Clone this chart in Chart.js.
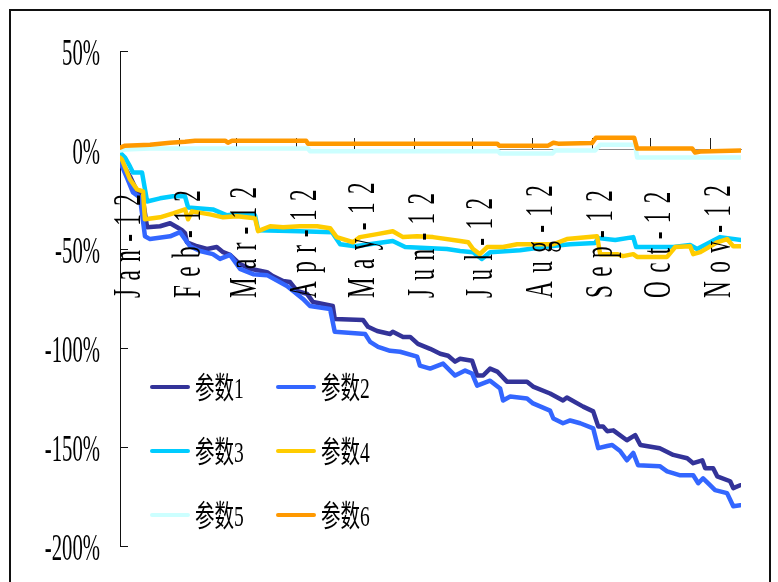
<!DOCTYPE html>
<html>
<head>
<meta charset="utf-8">
<script src="https://cdn.jsdelivr.net/npm/chart.js@4/dist/chart.umd.min.js"></script>
<style>
  html, body { margin: 0; padding: 0; background: #ffffff; overflow: hidden; }
  canvas { display: block; }
</style>
</head>
<body>
<canvas id="chart" width="778" height="582"></canvas>
<script>
// Month start positions (days since 1 Jan 2012) and their labels
const monthDays = [0, 31, 60, 91, 121, 152, 182, 213, 244, 274, 305];
const monthLabels = ['Jan-12', 'Feb-12', 'Mar-12', 'Apr-12', 'May-12', 'Jun-12',
                     'Jul-12', 'Aug-12', 'Sep-12', 'Oct-12', 'Nov-12'];
const lastDay = 321;

const seriesNames = ['参数1', '参数2', '参数3', '参数4', '参数5', '参数6'];
const seriesColors = ['#333399', '#3366FF', '#00CCFF', '#FFCC00', '#CCFFFF', '#FF9900'];

// Cumulative return (%) per series, sampled by day
const s1Days = [0,5.2,8.8,11.4,14,20.7,25.9,29.5,32,33.6,34.6,39.8,45,50,53.3,56.9,62,67.2,76,79,84.3,87.9,91.5,96.7,99.8,110,111,125.6,128.2,132.9,139.6,141,146.3,150,154,160.3,165.5,169.6,173.2,175.8,182,184.6,187.7,191.3,195,200,210.4,213.5,222.3,229,231,239.4,244.6,247.2,249.7,251.8,255,262,266.3,269,279,286,293.2,296.3,301,302.5,306.6,308.7,315.4,317,320.6];
const s1Vals = [-4.8,-13.4,-20.9,-22.3,-39,-38.5,-37,-39,-40.5,-42,-46.6,-48.6,-50,-49,-51.6,-53,-57.6,-60,-61.7,-63.7,-66.2,-66.7,-71.2,-72.7,-76.8,-78.8,-85.3,-85.8,-89.3,-91.4,-92.9,-91.8,-94.4,-94.4,-97.9,-100.4,-102.9,-103.9,-106.9,-105.4,-106.4,-113.9,-113.9,-110.4,-111.9,-117,-117,-119.5,-123,-126.5,-125,-129.6,-132,-139.6,-139.6,-142,-141.6,-146.6,-144,-149,-150.6,-154,-155.7,-158.2,-156.7,-160.7,-160.7,-164.8,-167.3,-170.8,-169.3];

const s2Days = [0,4,6.7,10.3,12.9,15.5,25.9,31,33.6,36.2,41.4,48,51.7,56.9,62,68.8,76,86.3,94.6,98.2,108.6,111,126.7,129.3,133.4,139.6,144.8,153.6,155,160.3,167,170.6,173.2,178.4,182,184.6,191.3,196.5,198,201.7,210.4,213.5,222.3,224,229,232.7,237.9,244.6,247.2,251.8,254.4,258.5,262,265.3,267.8,279,282.8,289.6,296.3,298.9,301.4,305,307.6,313.8,317,320.6];
const s2Vals = [-5.8,-14.9,-21.4,-23.9,-43.6,-45,-43.6,-41.5,-45,-48.6,-51,-52.6,-55,-53,-60,-62.7,-63.2,-68.7,-75.2,-78.8,-80.3,-91.8,-92.9,-96.9,-99.4,-101.4,-101.9,-104.4,-108.9,-110.4,-107.9,-111.4,-113.9,-111.4,-112.9,-119,-116.5,-120.5,-126.5,-124.5,-125.5,-128,-131.6,-135.6,-138,-136.6,-138,-140.6,-150.6,-149.5,-149,-152,-156.7,-153,-159.2,-159.7,-162.3,-164.3,-164.3,-168.3,-165.8,-169.3,-171.8,-173.3,-179.9,-179.4];

const s3Days = [0,2.6,5.2,6.7,11.4,14,20.7,27.4,33.6,35.2,48,55.3,58.4,69.8,71.4,93,109.6,113.8,121.5,141,147.4,169,175.8,182.5,187,191.3,206.8,222.3,232.7,245.6,247.2,256,265.3,266.8,286,294.7,298.3,310.2,321];
const s3Vals = [-1.3,-3.8,-8.4,-11.4,-11.4,-26,-24.4,-23.4,-23.4,-29,-30,-33,-32.5,-33,-40.5,-41,-41.5,-47.6,-48.6,-46,-49,-50,-51,-51.6,-55,-51.6,-50.6,-48.6,-47.6,-47,-44.5,-45.5,-44,-49,-49,-48,-50,-44,-45.5];

const s4Days = [0,1,5.2,8.8,11.9,12.9,20.7,27.4,33.6,35.2,37.2,46.5,53.3,60.5,69.8,71.4,77.6,84.3,93,101.9,108.6,112,120.5,124,132.9,141,146.3,153.6,161.8,175.8,180,182.5,186,189.8,198,205.3,224,231,246.6,248.2,257,260,265.3,267.3,282.8,287,294.7,296.3,300,308.7,313.8,317,320.6];
const s4Vals = [-3.8,-4.8,-14.9,-19.9,-20.9,-35,-34,-32,-30,-35,-31,-32.5,-34,-33.5,-34.5,-41,-38.5,-39,-38.5,-38.5,-39.5,-44,-46.6,-44,-42.5,-41,-44,-43.6,-44,-46,-46.6,-50,-52.6,-49,-49,-47.6,-47.6,-45,-43.6,-52.6,-52.6,-53.6,-52.6,-54,-54,-49,-48.6,-52.6,-51.6,-46.6,-45,-48.6,-48.6];

const s5Days = [0,2.6,15.5,97.2,98.2,195.5,196.5,223.4,225,245.6,248.2,266.3,267.3,321];
const s5Vals = [-0.3,0.2,0.7,0.7,-0.65,-0.65,-1.8,-1.8,-0.3,-0.3,2.7,2.7,-3.8,-3.8];

const s6Days = [0,2.6,15.5,25.9,33.6,38.8,54.3,55.8,57.9,96.2,97.2,195,196,221.3,224,226.5,244,246,265.8,267.3,295.8,297.3,300,321];
const s6Vals = [1.2,2.2,2.7,3.7,4.2,4.7,4.7,3.7,4.7,4.7,3.2,3.2,2.2,2.2,3.7,3.2,3.5,6.2,6.2,0.7,0.7,-1.3,-0.8,-0.3];

const allDays = [s1Days, s2Days, s3Days, s4Days, s5Days, s6Days];
const allVals = [s1Vals, s2Vals, s3Vals, s4Vals, s5Vals, s6Vals];

const datasets = seriesNames.map((name, i) => ({
  label: name,
  data: allDays[i].map((d, k) => ({ x: d, y: allVals[i][k] })),
  borderColor: seriesColors[i],
  backgroundColor: seriesColors[i],
  borderWidth: 4.5,
  pointRadius: 0,
  tension: 0,
  borderJoinStyle: 'round',
  borderCapStyle: 'round',
  fill: false,
  order: seriesNames.length - 1 - i   // later series sit on top
}));

// Narrow serif lettering for axis labels and legend, plus the outer frame
const narrowText = {
  id: 'narrowText',
  beforeDraw(chart) {
    const ctx = chart.ctx;
    ctx.save();
    ctx.strokeStyle = '#111';
    ctx.lineWidth = 2;
    ctx.strokeRect(10, 10, 760, 620);
    ctx.restore();
  },
  afterDraw(chart) {
    const ctx = chart.ctx;
    const xs = chart.scales.x, ys = chart.scales.y;
    ctx.save();
    ctx.fillStyle = '#000';

    // value axis labels
    ctx.font = "37px 'Liberation Serif'";
    ctx.textAlign = 'right';
    ctx.textBaseline = 'alphabetic';
    ys.ticks.forEach(t => {
      const y = ys.getPixelForValue(t.value);
      ctx.save();
      ctx.translate(ys.right - 20, y + 14);
      ctx.scale(0.56, 1);
      ctx.fillText(t.label, 0, 0);
      ctx.restore();
    });

    // month labels, written upward below the zero line
    const zeroY = ys.getPixelForValue(0);
    ctx.font = "40px 'Liberation Serif'";
    ctx.textAlign = 'left';
    xs.ticks.forEach(t => {
      const x = xs.getPixelForValue(t.value);
      ctx.save();
      ctx.translate(x + 20, zeroY + 148);
      ctx.rotate(-Math.PI / 2);
      ctx.scale(0.58, 1);
      ctx.letterSpacing = '14.5px';
      ctx.fillText(t.label, 0, 0);
      ctx.restore();
    });

    // legend: three rows, two columns
    ctx.font = "30px 'Liberation Serif', 'Noto Sans CJK SC'";
    chart.data.datasets.forEach((ds, i) => {
      const col = i % 2, row = Math.floor(i / 2);
      const lx = 150 + col * 126;
      const ly = 387 + row * 64;
      ctx.save();
      ctx.strokeStyle = ds.borderColor;
      ctx.lineWidth = 4;
      ctx.lineCap = 'round';
      ctx.beginPath();
      ctx.moveTo(lx + 2, ly);
      ctx.lineTo(lx + 38, ly);
      ctx.stroke();
      ctx.restore();
      ctx.save();
      ctx.translate(lx + 45, ly + 11);
      ctx.scale(0.65, 1);
      ctx.textAlign = 'left';
      ctx.fillText(ds.label, 0, 0);
      ctx.restore();
    });
    ctx.restore();
  }
};

new Chart(document.getElementById('chart'), {
  type: 'line',
  data: { datasets },
  options: {
    responsive: false,
    animation: false,
    events: [],
    layout: { padding: { left: 0, top: 51, right: 37, bottom: 36 } },
    plugins: { legend: { display: false }, tooltip: { enabled: false } },
    scales: {
      x: {
        type: 'linear',
        min: 0,
        max: lastDay,
        position: { y: 0 },
        afterBuildTicks: axis => { axis.ticks = monthDays.map(v => ({ value: v })); },
        ticks: {
          display: false,
          autoSkip: false,
          callback: (v) => monthLabels[monthDays.indexOf(v)]
        },
        grid: { display: true, drawOnChartArea: false, drawTicks: true, tickLength: -12, tickColor: '#222', tickWidth: 1 },
        border: { display: true, color: '#8a8a8a', width: 1 }
      },
      y: {
        min: -200,
        max: 50,
        afterFit: scale => { scale.width = 120; },
        ticks: { display: false, stepSize: 50, callback: v => v + '%' },
        grid: { display: true, drawOnChartArea: false, drawTicks: true, tickLength: -8, tickColor: '#111', tickWidth: 1 },
        border: { display: true, color: '#111', width: 1 }
      }
    }
  },
  plugins: [narrowText]
});
</script>
</body>
</html>
